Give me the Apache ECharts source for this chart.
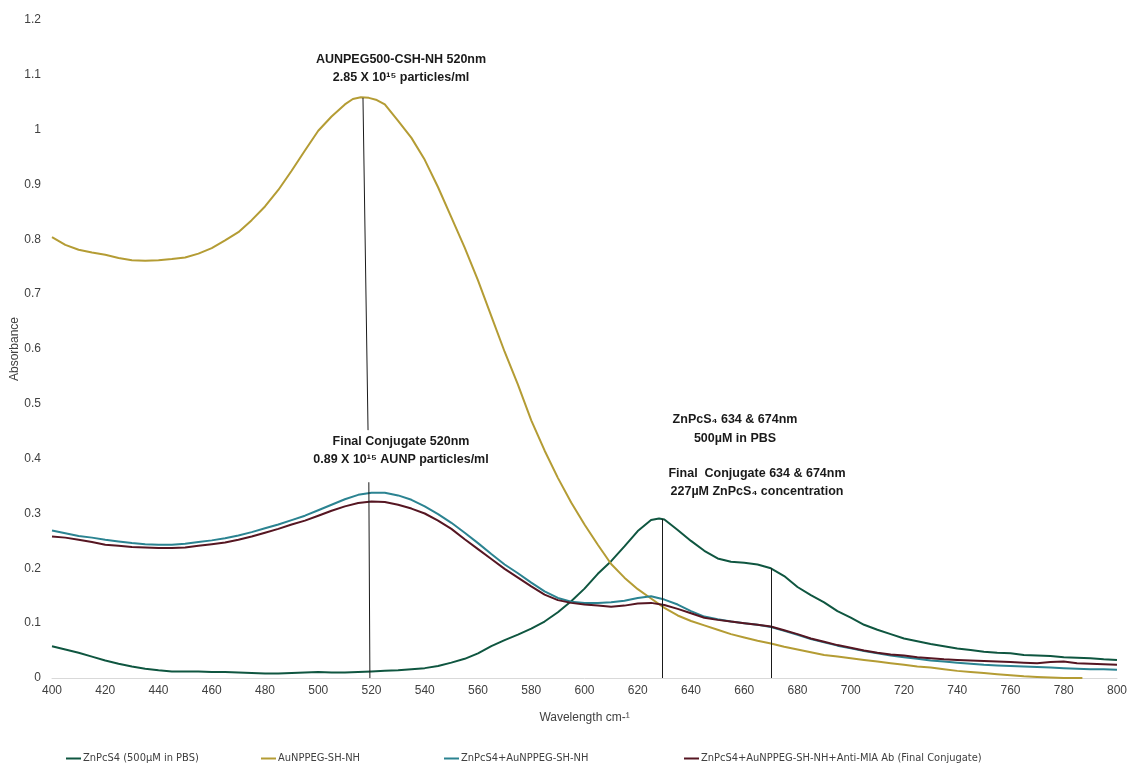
<!DOCTYPE html>
<html>
<head>
<meta charset="utf-8">
<title>UV-Vis absorbance spectra</title>
<script src="https://cdn.jsdelivr.net/npm/echarts@6/dist/echarts.min.js"></script>
<style>
  html, body { margin: 0; padding: 0; background: #ffffff; }
  #chart { width: 1127px; height: 765px; }
</style>
</head>
<body>
<div id="chart"></div>
<script>
// Series names (legend order)
const seriesNames = [
  'ZnPcS4 (500µM in PBS)',
  'AuNPPEG-SH-NH',
  'ZnPcS4+AuNPPEG-SH-NH',
  'ZnPcS4+AuNPPEG-SH-NH+Anti-MIA Ab (Final Conjugate)'
];

// Wavelength (nm) and absorbance pairs for each spectrum
const znpcs4 = [
  [400,0.058],[405,0.052],[410,0.046],[415,0.039],[420,0.032],[425,0.026],[430,0.021],[435,0.017],
  [440,0.014],[445,0.012],[450,0.012],[455,0.012],[460,0.011],[465,0.011],[470,0.010],[475,0.009],
  [480,0.008],[485,0.008],[490,0.009],[495,0.010],[500,0.011],[505,0.010],[510,0.010],[515,0.011],
  [520,0.012],[525,0.013],[530,0.014],[535,0.016],[540,0.018],[545,0.022],[550,0.028],[555,0.035],
  [560,0.045],[565,0.058],[570,0.069],[575,0.079],[580,0.090],[585,0.103],[590,0.120],[595,0.140],
  [600,0.163],[605,0.190],[610,0.213],[615,0.240],[620,0.268],[625,0.288],[628,0.291],[630,0.289],
  [635,0.270],[640,0.250],[645,0.232],[650,0.218],[655,0.212],[660,0.210],[665,0.207],[670,0.200],
  [675,0.186],[680,0.166],[685,0.151],[690,0.138],[695,0.122],[700,0.110],[705,0.097],[710,0.088],
  [715,0.080],[720,0.072],[725,0.067],[730,0.062],[735,0.058],[740,0.054],[745,0.051],[750,0.048],
  [755,0.046],[760,0.045],[765,0.042],[770,0.041],[775,0.040],[780,0.038],[785,0.037],[790,0.036],
  [795,0.034],[800,0.033]
];

const aunp = [
  [400,0.804],[405,0.790],[410,0.781],[415,0.776],[420,0.772],[425,0.766],[430,0.762],[435,0.761],
  [440,0.762],[445,0.764],[450,0.767],[455,0.774],[460,0.784],[465,0.798],[470,0.813],[475,0.835],
  [480,0.860],[485,0.890],[490,0.925],[495,0.962],[500,0.998],[505,1.024],[510,1.046],[513,1.056],
  [516,1.059],[519,1.058],[522,1.054],[525,1.046],[530,1.016],[535,0.985],[540,0.945],[545,0.895],
  [550,0.840],[555,0.785],[560,0.725],[565,0.660],[570,0.595],[575,0.535],[580,0.470],[585,0.415],
  [590,0.365],[595,0.320],[600,0.280],[605,0.243],[610,0.208],[615,0.183],[620,0.162],[625,0.145],
  [630,0.128],[635,0.114],[640,0.104],[645,0.096],[650,0.088],[655,0.080],[660,0.074],[665,0.068],
  [670,0.063],[675,0.057],[680,0.052],[685,0.047],[690,0.042],[695,0.039],[700,0.036],[705,0.033],
  [710,0.030],[715,0.027],[720,0.024],[725,0.021],[730,0.019],[735,0.016],[740,0.013],[745,0.011],
  [750,0.009],[755,0.007],[760,0.005],[765,0.003],[770,0.002],[775,0.001],[780,0.000],[787,0.000]
];

const znpcsAunp = [
  [400,0.269],[405,0.264],[410,0.259],[415,0.256],[420,0.252],[425,0.249],[430,0.246],[435,0.244],
  [440,0.243],[445,0.243],[450,0.245],[455,0.248],[460,0.251],[465,0.255],[470,0.260],[475,0.266],
  [480,0.273],[485,0.280],[490,0.288],[495,0.296],[500,0.306],[505,0.316],[510,0.326],[515,0.334],
  [520,0.338],[525,0.338],[530,0.333],[535,0.325],[540,0.313],[545,0.299],[550,0.283],[555,0.265],
  [560,0.246],[565,0.226],[570,0.207],[575,0.191],[580,0.174],[585,0.158],[590,0.146],[595,0.139],
  [600,0.137],[605,0.137],[610,0.138],[615,0.141],[620,0.146],[625,0.149],[630,0.143],[635,0.134],
  [640,0.122],[645,0.112],[650,0.107],[655,0.103],[660,0.100],[665,0.097],[670,0.093],[675,0.086],
  [680,0.079],[685,0.071],[690,0.065],[695,0.059],[700,0.054],[705,0.049],[710,0.045],[715,0.041],
  [720,0.038],[725,0.035],[730,0.032],[735,0.030],[740,0.028],[745,0.026],[750,0.024],[755,0.023],
  [760,0.022],[765,0.021],[770,0.020],[775,0.019],[780,0.018],[785,0.017],[790,0.016],[795,0.016],
  [800,0.015]
];

const finalConjugate = [
  [400,0.258],[405,0.256],[410,0.252],[415,0.248],[420,0.243],[425,0.241],[430,0.239],[435,0.238],
  [440,0.237],[445,0.237],[450,0.238],[455,0.241],[460,0.244],[465,0.247],[470,0.252],[475,0.258],
  [480,0.265],[485,0.272],[490,0.280],[495,0.287],[500,0.296],[505,0.305],[510,0.313],[515,0.319],
  [520,0.322],[525,0.321],[530,0.316],[535,0.309],[540,0.300],[545,0.287],[550,0.272],[555,0.253],
  [560,0.235],[565,0.217],[570,0.199],[575,0.183],[580,0.167],[585,0.152],[590,0.142],[595,0.137],
  [600,0.134],[605,0.132],[610,0.130],[615,0.132],[620,0.136],[625,0.137],[630,0.133],[635,0.126],
  [640,0.118],[645,0.110],[650,0.106],[655,0.103],[660,0.100],[665,0.097],[670,0.094],[675,0.087],
  [680,0.080],[685,0.072],[690,0.066],[695,0.060],[700,0.055],[705,0.050],[710,0.046],[715,0.043],
  [720,0.041],[725,0.038],[730,0.036],[735,0.034],[740,0.033],[745,0.032],[750,0.031],[755,0.030],
  [760,0.029],[765,0.028],[770,0.027],[775,0.029],[780,0.030],[785,0.027],[790,0.026],[795,0.025],
  [800,0.024]
];

// Peak marker lines (wavelength, absorbance) start/end
const peakMarkers = [
  [[516.8,1.058],[518.7,0.452]],
  [[519.0,0.357],[519.4,0.0]],
  [[629.3,0.290],[629.3,0.0]],
  [[670.0,0.200],[670.0,0.0]]
];

// Axis tick settings
const xMin = 400, xMax = 800, xStep = 20;
const yMin = 0, yMax = 1.2, yStep = 0.1;

const colors = ['#0f5640', '#b49c34', '#2b8391', '#561622'];
const seriesData = [znpcs4, aunp, znpcsAunp, finalConjugate];

const labelFont = "'Liberation Sans', Arial, sans-serif";
const narrowFont = "'Liberation Sans Narrow', 'DejaVu Sans Condensed', 'Liberation Sans', sans-serif";
const noteFont = "bold 12.5px 'Liberation Sans', Arial, sans-serif";

const chart = echarts.init(document.getElementById('chart'), null, { renderer: 'canvas' });

const legendLefts = [61, 256, 439, 679];

const option = {
  backgroundColor: '#ffffff',
  animation: false,
  grid: { left: 52, right: 10, top: 20, bottom: 87, containLabel: false, outerBoundsMode: 'none' },
  xAxis: {
    type: 'value',
    min: xMin, max: xMax, interval: xStep,
    name: 'Wavelength cm-¹',
    nameLocation: 'middle',
    nameGap: 34,
    nameMoveOverlap: false,
    nameTextStyle: { color: '#404040', fontSize: 12, fontFamily: labelFont },
    axisLine: { show: true, lineStyle: { color: '#d9d9d9', width: 1 } },
    axisTick: { show: false },
    splitLine: { show: false },
    axisLabel: { color: '#404040', fontSize: 12, margin: 7, fontFamily: labelFont }
  },
  yAxis: {
    type: 'value',
    min: yMin, max: yMax, interval: yStep,
    name: 'Absorbance',
    nameLocation: 'middle',
    nameGap: 31,
    nameRotate: 90,
    nameMoveOverlap: false,
    nameTextStyle: { color: '#404040', fontSize: 12, fontFamily: labelFont },
    axisLine: { show: false },
    axisTick: { show: false },
    splitLine: { show: false },
    axisLabel: {
      color: '#404040', fontSize: 12, margin: 11, fontFamily: labelFont,
      formatter: v => String(Math.round(v * 10) / 10)
    }
  },
  legend: seriesNames.map((n, i) => ({
    data: [n],
    left: legendLefts[i],
    top: 748,
    icon: 'rect',
    itemWidth: 15,
    itemHeight: 2,
    itemGap: 0,
    textStyle: { color: '#404040', fontSize: 11, fontFamily: narrowFont, padding: [0, 0, 0, -3] },
    selectedMode: false
  })),
  series: seriesNames.map((n, i) => ({
    name: n,
    type: 'line',
    data: seriesData[i],
    showSymbol: false,
    symbol: 'none',
    smooth: false,
    z: [2, 3, 4, 5][i],
    lineStyle: { color: colors[i], width: 2 },
    itemStyle: { color: colors[i] }
  })).concat([{
    name: 'peak markers',
    type: 'lines',
    coordinateSystem: 'cartesian2d',
    z: 6,
    silent: true,
    lineStyle: { color: '#1a1a1a', width: 1, opacity: 1 },
    data: peakMarkers.map(c => ({ coords: c }))
  }]),
  graphic: [
    { type: 'text', x: 401, y: 69, style: {
        text: 'AUNPEG500-CSH-NH 520nm\n2.85 X 10¹⁵ particles/ml',
        align: 'center', verticalAlign: 'middle', lineHeight: 18,
        font: noteFont, fill: '#1a1a1a' } },
    { type: 'text', x: 401, y: 451, style: {
        text: 'Final Conjugate 520nm\n0.89 X 10¹⁵ AUNP particles/ml',
        align: 'center', verticalAlign: 'middle', lineHeight: 18,
        font: noteFont, fill: '#1a1a1a' } },
    { type: 'text', x: 735, y: 429, style: {
        text: 'ZnPcS₄ 634 & 674nm\n500µM in PBS',
        align: 'center', verticalAlign: 'middle', lineHeight: 19,
        font: noteFont, fill: '#1a1a1a' } },
    { type: 'text', x: 757, y: 483, style: {
        text: 'Final  Conjugate 634 & 674nm\n227µM ZnPcS₄ concentration',
        align: 'center', verticalAlign: 'middle', lineHeight: 18,
        font: noteFont, fill: '#1a1a1a' } }
  ]
};

chart.setOption(option);
</script>
</body>
</html>
